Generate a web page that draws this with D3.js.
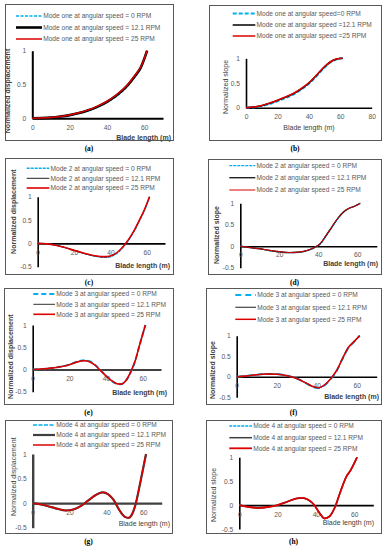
<!DOCTYPE html>
<html lang="en">
<head>
<meta charset="UTF-8" />
<title>Blade mode shapes</title>
<script src="https://d3js.org/d3.v7.min.js"></script>
<style>
  body { margin: 0; background: #fff; }
  svg text { font-family: "Liberation Sans", Arial, sans-serif; }
</style>
</head>
<body>
<script>

// ---- data (blade length in m, normalized values) ----
var xTicks70 = [0, 20, 40, 60];
var xTicks80 = [0, 20, 40, 60, 80];
var yTicksPos = [0, 0.5, 1];
var yTicksNeg = [-0.5, 0, 0.5, 1];

// (a) mode one displacement
var dispOneX   = [0, 5, 10, 15, 20, 25, 30, 35, 40, 45, 50, 55, 58, 61.5];
var dispOne0   = [0, 0.002, 0.01, 0.024, 0.044, 0.073, 0.112, 0.165, 0.235, 0.325, 0.445, 0.615, 0.735, 1.0];
var dispOne121 = [0, 0.002, 0.01, 0.026, 0.047, 0.077, 0.118, 0.173, 0.244, 0.337, 0.457, 0.627, 0.745, 1.0];
var dispOne25  = [0, 0.003, 0.012, 0.028, 0.05, 0.081, 0.124, 0.18, 0.252, 0.345, 0.467, 0.637, 0.755, 1.0];

// (b) mode one slope
var slopeOneX   = [0, 5, 10, 15, 20, 25, 30, 35, 40, 45, 50, 55, 58, 61.5];
var slopeOne0   = [0, 0.008, 0.032, 0.075, 0.13, 0.195, 0.265, 0.365, 0.485, 0.645, 0.815, 0.945, 0.98, 1.0];
var slopeOne121 = [0, 0.012, 0.04, 0.088, 0.145, 0.21, 0.28, 0.378, 0.498, 0.658, 0.828, 0.95, 0.985, 1.0];
var slopeOne25  = [0, 0.015, 0.045, 0.095, 0.152, 0.216, 0.288, 0.385, 0.505, 0.665, 0.835, 0.955, 0.99, 1.0];

// (c) mode 2 displacement
var dispTwoX   = [0, 5, 10, 15, 20, 25, 30, 35, 38, 41, 44, 47, 50, 53, 56, 58.5, 61.5];
var dispTwo0   = [0, -0.01, -0.04, -0.09, -0.15, -0.21, -0.26, -0.295, -0.3, -0.27, -0.2, -0.08, 0.07, 0.26, 0.49, 0.69, 1.0];
var dispTwo121 = [0, -0.01, -0.04, -0.09, -0.15, -0.21, -0.26, -0.29, -0.29, -0.26, -0.19, -0.07, 0.08, 0.27, 0.5, 0.7, 1.0];
var dispTwo25  = [0, -0.01, -0.04, -0.09, -0.15, -0.205, -0.255, -0.285, -0.285, -0.255, -0.185, -0.065, 0.085, 0.275, 0.505, 0.705, 1.0];

// (d) mode 2 slope
var slopeTwoX   = [0, 5, 10, 15, 20, 25, 30, 35, 38, 41, 44, 47, 50, 53, 56, 58.5, 61.5];
var slopeTwo0   = [0, -0.03, -0.06, -0.1, -0.13, -0.15, -0.14, -0.09, -0.035, 0.05, 0.24, 0.44, 0.64, 0.8, 0.89, 0.93, 1.0];
var slopeTwo121 = [0, -0.03, -0.06, -0.1, -0.13, -0.15, -0.14, -0.09, -0.03, 0.06, 0.25, 0.45, 0.65, 0.8, 0.89, 0.93, 1.0];
var slopeTwo25  = [0, -0.03, -0.06, -0.095, -0.125, -0.145, -0.135, -0.085, -0.025, 0.065, 0.255, 0.455, 0.655, 0.805, 0.89, 0.93, 1.0];

// (e) mode 3 displacement
var dispThreeX   = [0, 5, 10, 15, 20, 24, 28, 31, 34, 37, 40, 43, 46, 48, 50, 52, 54, 56, 58, 61.5];
var dispThree0   = [0, 0.01, 0.03, 0.06, 0.11, 0.17, 0.205, 0.185, 0.105, -0.015, -0.14, -0.255, -0.325, -0.335, -0.295, -0.185, -0.015, 0.2, 0.5, 1.0];
var dispThree121 = [0, 0.01, 0.03, 0.06, 0.11, 0.17, 0.2, 0.18, 0.1, -0.02, -0.14, -0.25, -0.32, -0.33, -0.29, -0.18, -0.01, 0.2, 0.5, 1.0];
var dispThree25  = [0, 0.01, 0.03, 0.06, 0.105, 0.165, 0.195, 0.175, 0.095, -0.025, -0.145, -0.25, -0.32, -0.33, -0.29, -0.175, -0.005, 0.205, 0.505, 1.0];

// (f) mode 3 slope
var slopeThreeX   = [0, 5, 10, 15, 20, 25, 30, 35, 38, 41, 44, 47, 50, 53, 56, 58, 61.5];
var slopeThree0   = [0, 0.02, 0.05, 0.07, 0.065, 0.03, -0.04, -0.165, -0.245, -0.275, -0.205, -0.055, 0.145, 0.445, 0.715, 0.815, 1.0];
var slopeThree121 = [0, 0.02, 0.05, 0.07, 0.065, 0.03, -0.04, -0.16, -0.24, -0.27, -0.2, -0.05, 0.15, 0.45, 0.72, 0.82, 1.0];
var slopeThree25  = [0, 0.02, 0.05, 0.07, 0.06, 0.025, -0.045, -0.16, -0.235, -0.265, -0.195, -0.045, 0.155, 0.455, 0.725, 0.825, 1.0];

// (g) mode 4 displacement
var dispFourX   = [0, 5, 10, 15, 18, 22, 26, 30, 34, 38, 41, 44, 47, 50, 52, 54, 56, 58, 61.5];
var dispFour0   = [0, -0.03, -0.08, -0.13, -0.15, -0.13, -0.06, 0.05, 0.16, 0.22, 0.18, 0.06, -0.14, -0.28, -0.3, -0.22, 0.0, 0.35, 1.0];
var dispFour121 = [0, -0.03, -0.08, -0.13, -0.15, -0.13, -0.06, 0.05, 0.16, 0.22, 0.18, 0.06, -0.14, -0.28, -0.3, -0.22, 0.0, 0.35, 1.0];
var dispFour25  = [0, -0.03, -0.08, -0.13, -0.15, -0.13, -0.06, 0.05, 0.16, 0.22, 0.18, 0.06, -0.14, -0.28, -0.3, -0.22, 0.0, 0.35, 1.0];

// (h) mode 4 slope
var slopeFourX   = [0, 5, 10, 15, 20, 25, 30, 33, 36, 39, 42, 44.5, 47, 50, 53, 56, 58, 61.5];
var slopeFour0   = [0, -0.04, -0.06, -0.04, 0, 0.07, 0.14, 0.15, 0.11, 0.01, -0.17, -0.28, -0.24, -0.04, 0.3, 0.6, 0.72, 1.0];
var slopeFour121 = [0, -0.04, -0.06, -0.04, 0, 0.07, 0.14, 0.15, 0.11, 0.01, -0.17, -0.28, -0.24, -0.04, 0.3, 0.6, 0.72, 1.0];
var slopeFour25  = [0, -0.04, -0.06, -0.04, 0, 0.07, 0.14, 0.15, 0.11, 0.01, -0.17, -0.28, -0.24, -0.04, 0.3, 0.6, 0.72, 1.0];

var legendA = ["Mode one at angular speed = 0 RPM", "Mode one at angular speed = 12.1 RPM", "Mode one at angular speed = 25 RPM"];
var legendB = ["Mode one at angular speed=0 RPM", "Mode one at angular speed =12.1 RPM", "Mode one at angular speed =25 RPM"];
var legendTwo = ["Mode 2 at angular speed = 0 RPM", "Mode 2 at angular speed = 12.1 RPM", "Mode 2 at angular speed = 25 RPM"];
var legendThree = ["Mode 3 at angular speed = 0 RPM", "Mode 3 at angular speed = 12.1 RPM", "Mode 3 at angular speed = 25 RPM"];
var legendG = ["Mode 4 at angular speed = 0 RPM", "Mode 4  at angular speed = 12.1 RPM", "Mode 4 at angular speed = 25 RPM"];
var legendH = ["Mode 4  at angular speed = 0 RPM", "Mode 4  at angular speed = 12.1 RPM", "Mode 4 at angular speed = 25 RPM"];

// ---- layout of the 8 boxes ----
var cyan = "#00b0f0", red = "#dd0000";

var panels = [
    { cap: "(a)", box: [5, 4, 173, 140], xr: [32.3, 163], yr: [118.3, 50.7], yDom: [0, 1], xMax: 70, xt: xTicks70, yt: yTicksPos, pad: 6.5,
      x: dispOneX, ys: [dispOne0, dispOne121, dispOne25], legend: legendA, legX: [16, 42], legY: [16, 27.5, 39],
      styles: [{ c: cyan, w: 1.5, d: "3,1.5" }, { c: "#000", w: 2.6 }, { c: red, w: 1.5 }],
      axisC: "#000", axisW: 2, yLab: "Normalized displacement", yLabPos: [7.5, 91], bold: true, xLabPos: [171, 137] },
    { cap: "(b)", box: [209, 5, 381, 140], xr: [246, 371.7], yr: [107.7, 58.3], yDom: [0, 1], xMax: 80, xt: xTicks80, yt: yTicksPos, pad: 7,
      x: slopeOneX, ys: [slopeOne0, slopeOne121, slopeOne25], legend: legendB, legX: [232.7, 255.3], legY: [13.5, 25, 36],
      styles: [{ c: cyan, w: 2, d: "4,2" }, { c: "#000", w: 1.5 }, { c: red, w: 1.5 }],
      axisC: "#000", axisW: 1.6, yLab: "Normalized slope", yLabPos: [225.5, 87], bold: false, xLabPos: [309, 127.7], xLabMid: true },
    { cap: "(c)", box: [5, 158, 173, 274], xr: [37.7, 165], yr: [266.7, 196.7], yDom: [-0.5, 1], xMax: 70, xt: xTicks70, yt: yTicksNeg, pad: 6.5,
      x: dispTwoX, ys: [dispTwo0, dispTwo121, dispTwo25], legend: legendTwo, legX: [26.7, 49.3], legY: [168.3, 178.3, 188],
      styles: [{ c: cyan, w: 1.5, d: "3,1" }, { c: "#222", w: 1 }, { c: red, w: 1.6 }],
      axisC: "#000", axisW: 1.6, yLab: "Normalized displacement", yLabPos: [13.3, 211.7], bold: true, xLabPos: [170, 265.7] },
    { cap: "(d)", box: [208, 159, 381, 274], xr: [240.3, 376.8], yr: [267.7, 203.3], yDom: [-0.5, 1], xMax: 70, xt: xTicks70, yt: yTicksNeg, pad: 5.7,
      x: slopeTwoX, ys: [slopeTwo0, slopeTwo121, slopeTwo25], legend: legendTwo, legX: [229.3, 255.3], legY: [165.7, 177.7, 190],
      styles: [{ c: cyan, w: 1.3, d: "3,1" }, { c: "#222", w: 1.4 }, { c: red, w: 1 }],
      axisC: "#000", axisW: 1.6, yLab: "Normalized slope", yLabPos: [216.7, 235], bold: true, xLabPos: [378, 263.3] },
    { cap: "(e)", box: [4, 288, 173, 404], xr: [32.7, 161], yr: [391.7, 325], yDom: [-0.5, 1], xMax: 70, xt: xTicks70, yt: yTicksNeg, pad: 6.5,
      x: dispThreeX, ys: [dispThree0, dispThree121, dispThree25], legend: legendThree, legX: [33.3, 55], legY: [294, 304.3, 314.3],
      styles: [{ c: cyan, w: 2, d: "5,3" }, { c: "#333", w: 1 }, { c: red, w: 1.6 }],
      axisC: "#000", axisW: 1.6, yLab: "Normalized displacement", yLabPos: [10, 356.7], bold: true, xLabPos: [167, 392.3] },
    { cap: "(f)", box: [206, 288, 381, 404], xr: [236.7, 376.7], yr: [397.3, 335.7], yDom: [-0.5, 1], xMax: 70, xt: xTicks70, yt: yTicksNeg, pad: 6,
      x: slopeThreeX, ys: [slopeThree0, slopeThree121, slopeThree25], legend: legendThree, legX: [235.3, 256], legY: [295, 307.3, 319.3],
      styles: [{ c: cyan, w: 2, d: "6,4" }, { c: "#444", w: 1.2 }, { c: red, w: 1.5 }],
      axisC: "#000", axisW: 1.6, yLab: "Normalized slope", yLabPos: [212, 370], bold: true, xLabPos: [379, 396] },
    { cap: "(g)", box: [5, 420, 172, 533], xr: [32.7, 161.7], yr: [527.7, 454], yDom: [-0.5, 1], xMax: 70, xt: xTicks70, yt: yTicksNeg, pad: 7.5,
      x: dispFourX, ys: [dispFour0, dispFour121, dispFour25], legend: legendG, legX: [33, 55], legY: [425, 435, 445],
      styles: [{ c: cyan, w: 1.5, d: "4,1.5" }, { c: "#404040", w: 2.2 }, { c: red, w: 1.5 }],
      axisC: "#404040", axisW: 2.4, yLab: "Normalized displacement", yLabPos: [13.3, 476.7], bold: false, xLabPos: [170, 523.3] },
    { cap: "(h)", box: [206, 420, 381, 533], xr: [239.3, 373.3], yr: [529, 457.3], yDom: [-0.5, 1], xMax: 70, xt: xTicks70, yt: yTicksNeg, pad: 7,
      x: slopeFourX, ys: [slopeFour0, slopeFour121, slopeFour25], legend: legendH, legX: [229.3, 252], legY: [426, 437.7, 448.3],
      styles: [{ c: cyan, w: 1.3, d: "3,1" }, { c: "#404040", w: 1.5 }, { c: red, w: 1.8 }],
      axisC: "#000", axisW: 1.6, yLab: "Normalized slope", yLabPos: [213.3, 495], bold: false, xLabPos: [374, 522.3] }
];

var svg = d3.select("body")
    .append("svg")
    .attr("width", 392)
    .attr("height", 550);

function drawPanel(p) {
    var g = svg.append("g");

    g.append("rect")
        .attr("x", p.box[0] + 0.5).attr("y", p.box[1] + 0.5)
        .attr("width", p.box[2] - p.box[0]).attr("height", p.box[3] - p.box[1])
        .attr("fill", "#fff").attr("stroke", "#595959").attr("stroke-width", 1);

    var xScale = d3.scaleLinear().domain([0, p.xMax]).range(p.xr);
    var yScale = d3.scaleLinear().domain(p.yDom).range(p.yr);

    // y axis (through x = 0)
    var yAxis = g.append("g")
        .attr("transform", "translate(" + xScale(0) + ",0)")
        .call(d3.axisLeft(yScale).tickValues(p.yt).tickSize(0).tickSizeOuter(0).tickPadding(6)
            .tickFormat(function (d) { return d; }));

    // x axis (along y = 0)
    var xAxis = g.append("g")
        .attr("transform", "translate(0," + yScale(0) + ")")
        .call(d3.axisBottom(xScale).tickValues(p.xt).tickSize(0).tickSizeOuter(0).tickPadding(p.pad));

    [xAxis, yAxis].forEach(function (a) {
        a.select(".domain").attr("stroke", p.axisC).attr("stroke-width", p.axisW);
        a.selectAll("text").attr("fill", "#595959").attr("font-size", 6.7)
            .attr("font-family", "Liberation Sans, Arial, sans-serif");
        a.attr("font-family", null).attr("font-size", null);
    });

    // curves: 0 RPM, 12.1 RPM, 25 RPM (red on top)
    p.ys.forEach(function (ys, i) {
        var st = p.styles[i];
        var line = d3.line()
            .x(function (d, j) { return xScale(p.x[j]); })
            .y(function (d) { return yScale(d); })
            .curve(d3.curveMonotoneX);
        g.append("path")
            .datum(ys)
            .attr("d", line)
            .attr("fill", "none")
            .attr("stroke", st.c)
            .attr("stroke-width", st.w)
            .attr("stroke-dasharray", st.d || null);
    });

    // legend
    p.legend.forEach(function (label, i) {
        var st = p.styles[i];
        g.append("line")
            .attr("x1", p.legX[0]).attr("x2", p.legX[1])
            .attr("y1", p.legY[i]).attr("y2", p.legY[i])
            .attr("stroke", st.c).attr("stroke-width", st.w)
            .attr("stroke-dasharray", st.d || null);
        g.append("text")
            .attr("x", p.legX[1] + 1.2)
            .attr("y", p.legY[i] + 2.3)
            .attr("font-size", 6.6)
            .attr("fill", "#595959")
            .text(label);
    });

    // axis titles
    g.append("text")
        .attr("transform", "translate(" + (p.yLabPos[0] + 2.5) + "," + p.yLabPos[1] + ") rotate(-90)")
        .attr("text-anchor", "middle")
        .attr("font-size", 7)
        .attr("font-weight", p.bold ? "bold" : "normal")
        .attr("fill", "#404040")
        .text(p.yLab);

    g.append("text")
        .attr("x", p.xLabPos[0])
        .attr("y", p.xLabPos[1] + 2.5)
        .attr("text-anchor", p.xLabMid ? "middle" : "end")
        .attr("font-size", 7)
        .attr("font-weight", p.bold ? "bold" : "normal")
        .attr("fill", "#404040")
        .text("Blade length (m)");

    // caption below the box
    svg.append("text")
        .attr("x", (p.box[0] + p.box[2]) / 2)
        .attr("y", p.box[3] + 11)
        .attr("text-anchor", "middle")
        .attr("font-size", 7.5)
        .attr("font-weight", "bold")
        .style("font-family", "'Liberation Serif', 'Times New Roman', serif")
        .text(p.cap);
}

panels.forEach(drawPanel);

</script>
</body>
</html>
